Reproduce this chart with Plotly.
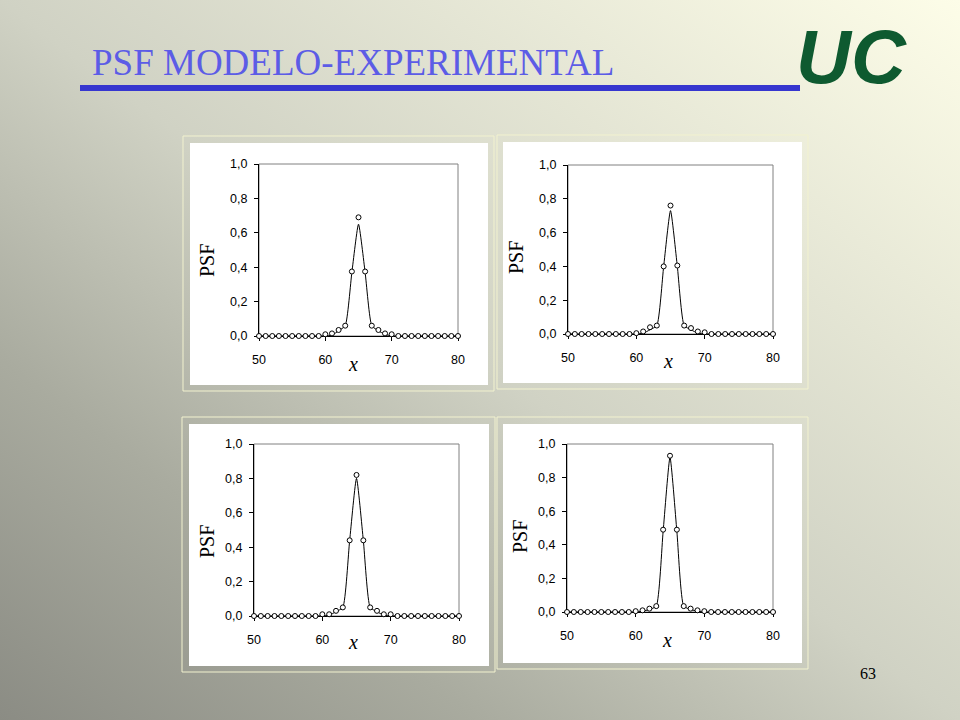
import base64
import plotly.graph_objects as go

# ---------------- data ----------------
x_vals = list(range(50, 81))

def pad(center_vals):
    # values for x = 60..70, zeros elsewhere
    return [0.0] * 10 + center_vals + [0.0] * 10

exp1_core = [0.010, 0.015, 0.035, 0.060, 0.375, 0.690, 0.375, 0.060, 0.035, 0.015, 0.010]
mod1_core = [0.000, 0.005, 0.030, 0.060, 0.370, 0.650, 0.370, 0.060, 0.030, 0.010, 0.000]
exp2_core = [0.005, 0.015, 0.040, 0.050, 0.400, 0.760, 0.405, 0.050, 0.035, 0.015, 0.010]
mod2_core = [0.000, 0.005, 0.025, 0.050, 0.400, 0.730, 0.400, 0.050, 0.025, 0.005, 0.000]
exp3_core = [0.010, 0.010, 0.030, 0.050, 0.440, 0.820, 0.440, 0.050, 0.030, 0.010, 0.010]
mod3_core = [0.000, 0.005, 0.025, 0.050, 0.440, 0.800, 0.440, 0.050, 0.025, 0.005, 0.000]
exp4_core = [0.005, 0.010, 0.020, 0.035, 0.490, 0.930, 0.490, 0.035, 0.020, 0.010, 0.005]
mod4_core = [0.000, 0.005, 0.015, 0.035, 0.480, 0.920, 0.480, 0.035, 0.015, 0.005, 0.000]

exp_series = [pad(exp1_core), pad(exp2_core), pad(exp3_core), pad(exp4_core)]
mod_series = [pad(mod1_core), pad(mod2_core), pad(mod3_core), pad(mod4_core)]

x_ticks = [50, 60, 70, 80]
y_ticks = [0.0, 0.2, 0.4, 0.6, 0.8, 1.0]

title_text = "PSF MODELO-EXPERIMENTAL"
y_title = "PSF"
x_title = "x"
page_no = "63"

# ---------------- layout helpers ----------------
W, H = 960, 720
def px(xp):
    return xp / W
def py(yp):
    return 1 - yp / H

# plot areas in pixels: (x_left, x_right, y_top, y_bottom)
areas = [(259, 458, 164, 336), (568, 773, 165, 334), (254, 459, 444, 616), (567, 773, 444, 612)]
# outer frame / white panel in pixels
frames = [(183, 136, 494, 391), (497, 135, 808, 389), (182, 417, 495, 672), (497, 417, 808, 669)]
whites = [(190, 143, 488, 385), (503, 142, 802, 383), (189, 424, 489, 666), (503, 424, 802, 663)]
ylab_pos = [(207, 261), (516, 258), (207, 542), (520, 537)]
xlab_pos = [(353, 364), (668, 361), (353, 642), (667, 640)]

fig = go.Figure()

tick_font = dict(family="Liberation Sans, Arial, sans-serif", size=12.5, color="black")

shapes = []
annotations = []

for i in range(4):
    xa = "xaxis" if i == 0 else f"xaxis{i+1}"
    ya = "yaxis" if i == 0 else f"yaxis{i+1}"
    xr = "x" if i == 0 else f"x{i+1}"
    yr = "y" if i == 0 else f"y{i+1}"
    xl, xrt, yt, yb = areas[i]

    fig.add_trace(go.Scatter(
        x=x_vals, y=mod_series[i], mode="lines",
        line=dict(color="black", width=1, shape="spline", smoothing=0.5),
        xaxis=xr, yaxis=yr, showlegend=False, cliponaxis=False, hoverinfo="skip"))
    fig.add_trace(go.Scatter(
        x=x_vals, y=exp_series[i], mode="markers",
        marker=dict(symbol="circle", size=5, color="white", line=dict(color="black", width=1)),
        xaxis=xr, yaxis=yr, showlegend=False, cliponaxis=False))

    fig.update_layout(**{
        xa: dict(domain=[px(xl), px(xrt)], anchor=yr, range=[50, 80], tickvals=x_ticks,
                 ticks="outside", ticklen=4, tickcolor="black", tickwidth=1,
                 showline=True, linecolor="black", linewidth=1, mirror=False,
                 showgrid=False, zeroline=False, tickfont=tick_font, automargin=False,
                 ticklabelstandoff=8, layer="below traces", fixedrange=True),
        ya: dict(domain=[py(yb), py(yt)], anchor=xr, range=[0, 1], tickvals=y_ticks,
                 tickformat=".1f", ticks="outside", ticklen=4, tickcolor="black", tickwidth=1,
                 showline=True, linecolor="black", linewidth=1, mirror=False,
                 showgrid=False, zeroline=False, tickfont=tick_font, automargin=False,
                 ticklabelstandoff=4, layer="below traces", fixedrange=True),
    })

    fx0, fy0, fx1, fy1 = frames[i]
    shapes.append(dict(type="rect", xref="paper", yref="paper",
                       x0=px(fx0), x1=px(fx1), y0=py(fy1), y1=py(fy0),
                       line=dict(color="#f2f2cf", width=1), fillcolor="rgba(0,0,0,0)", layer="below"))
    wx0, wy0, wx1, wy1 = whites[i]
    shapes.append(dict(type="rect", xref="paper", yref="paper",
                       x0=px(wx0), x1=px(wx1), y0=py(wy1), y1=py(wy0),
                       line=dict(width=0), fillcolor="white", layer="below"))
    # grey plot-area border
    shapes.append(dict(type="rect", xref=f"{xr} domain", yref=f"{yr} domain",
                       x0=0, x1=1, y0=0, y1=1,
                       line=dict(color="#808080", width=1), fillcolor="rgba(0,0,0,0)", layer="below"))

    lx, ly = ylab_pos[i]
    annotations.append(dict(text=y_title, x=px(lx), y=py(ly), xref="paper", yref="paper",
                            showarrow=False, textangle=-90, xanchor="center", yanchor="middle",
                            font=dict(family="Liberation Serif, Times New Roman, serif", size=20, color="black")))
    tx, ty = xlab_pos[i]
    annotations.append(dict(text=f"<i>{x_title}</i>", x=px(tx), y=py(ty), xref="paper", yref="paper",
                            showarrow=False, xanchor="center", yanchor="middle",
                            font=dict(family="Liberation Serif, Times New Roman, serif", size=20, color="black")))

# title underline
shapes.append(dict(type="rect", xref="paper", yref="paper",
                   x0=px(80), x1=px(800), y0=py(91), y1=py(85),
                   line=dict(width=0), fillcolor="#3636cf", layer="below"))

annotations.append(dict(text=title_text, x=px(90), y=py(62), xref="paper", yref="paper",
                        showarrow=False, xanchor="left", yanchor="middle",
                        font=dict(family="Liberation Serif, Times New Roman, serif", size=37, color="#5c5ce6")))
annotations.append(dict(text="<b><i>UC</i></b>", x=px(851), y=py(57), xref="paper", yref="paper",
                        showarrow=False, xanchor="center", yanchor="middle",
                        font=dict(family="Liberation Sans, Arial, sans-serif", size=76, color="#0e5a30")))
annotations.append(dict(text=page_no, x=px(868), y=py(673), xref="paper", yref="paper",
                        showarrow=False, xanchor="center", yanchor="middle",
                        font=dict(family="Liberation Serif, Times New Roman, serif", size=16, color="black")))

svg = ('<svg xmlns="http://www.w3.org/2000/svg" width="960" height="720" viewBox="0 0 960 720" '
       'preserveAspectRatio="none"><defs><linearGradient id="g" x1="0" y1="1" x2="1" y2="0">'
       '<stop offset="0" stop-color="#8b8c84"/><stop offset="0.25" stop-color="#a9ab9f"/>'
       '<stop offset="0.5" stop-color="#d0d2c4"/><stop offset="1" stop-color="#fdfde8"/>'
       '</linearGradient></defs><rect width="960" height="720" fill="url(#g)"/></svg>')
svg_uri = "data:image/svg+xml;base64," + base64.b64encode(svg.encode()).decode()

fig.update_layout(
    template="none",
    width=W, height=H, margin=dict(l=0, r=0, t=0, b=0, pad=0), autosize=False,
    paper_bgcolor="#c8c9bb", plot_bgcolor="rgba(0,0,0,0)",
    separators=",.",
    shapes=shapes, annotations=annotations, showlegend=False,
    images=[dict(source=svg_uri, xref="paper", yref="paper", x=0, y=1, sizex=1, sizey=1,
                 xanchor="left", yanchor="top", sizing="stretch", layer="below")],
)

fig.write_html("out.html", config={"displayModeBar": False},
               post_script="document.body.style.margin='0';document.body.style.padding='0';"
                           "document.body.style.overflow='hidden';")
